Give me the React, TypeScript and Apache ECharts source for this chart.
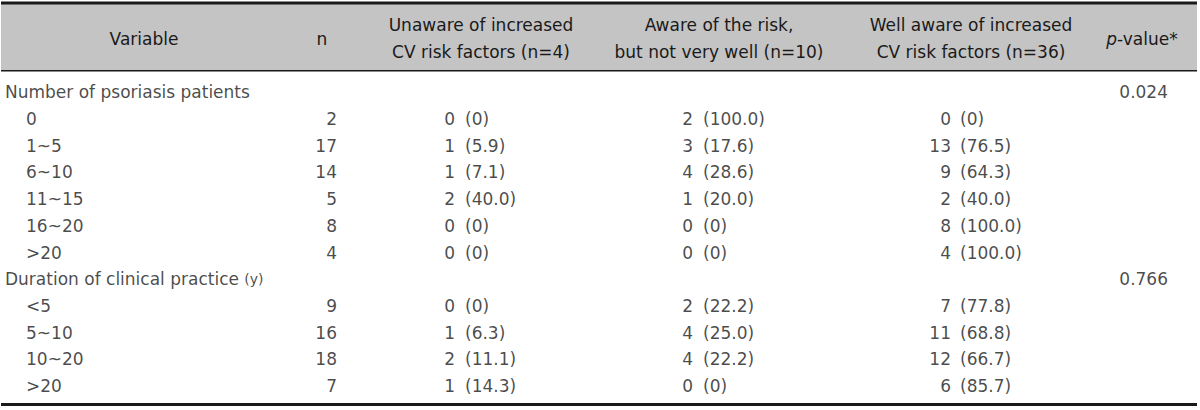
import React, { useEffect, useRef } from "react";
import * as echarts from "echarts";

// ---- data ----
const variables = [
  "Number of psoriasis patients",
  "0",
  "1~5",
  "6~10",
  "11~15",
  "16~20",
  ">20",
  "Duration of clinical practice (y)",
  "<5",
  "5~10",
  "10~20",
  ">20",
];
const isGroup = [true, false, false, false, false, false, false, true, false, false, false, false];
const nValues = [null, 2, 17, 14, 5, 8, 4, null, 9, 16, 18, 7];
const unawareN = [null, 0, 1, 1, 2, 0, 0, null, 0, 1, 2, 1];
const unawarePct = [null, "0", "5.9", "7.1", "40.0", "0", "0", null, "0", "6.3", "11.1", "14.3"];
const awareN = [null, 2, 3, 4, 1, 0, 0, null, 2, 4, 4, 0];
const awarePct = [null, "100.0", "17.6", "28.6", "20.0", "0", "0", null, "22.2", "25.0", "22.2", "0"];
const wellN = [null, 0, 13, 9, 2, 8, 4, null, 7, 11, 12, 6];
const wellPct = [null, "0", "76.5", "64.3", "40.0", "100.0", "100.0", null, "77.8", "68.8", "66.7", "85.7"];
const pValues = ["0.024", null, null, null, null, null, null, "0.766", null, null, null, null];

const headers = [
  "Variable",
  "n",
  "Unaware of increased\nCV risk factors (n=4)",
  "Aware of the risk,\nbut not very well (n=10)",
  "Well aware of increased\nCV risk factors (n=36)",
  "{i|p}-value*",
];

// ---- layout / style ----
const FONT = "'DejaVu Sans', sans-serif";
const INK = "#1a1a1a";
const GRAY = "#c4c4c4";
const FS = 17;
const headerX = [144, 322, 481, 719, 971, 1142];
const colX = {
  varGroup: 5,
  varSub: 26,
  n: 337,
  c1n: 455,
  c1p: 465,
  c2n: 693,
  c2p: 703,
  c3n: 951,
  c3p: 960,
  p: 1168,
};

export default function App() {
  const ref = useRef<HTMLDivElement>(null);
  useEffect(() => {
    document.body.style.margin = "0";
    const chart = echarts.init(ref.current!, null, { renderer: "svg" });

    const baseLabel = {
      show: true,
      distance: 0,
      color: INK,
      fontFamily: FONT,
      fontSize: FS,
    };

    const textSeries = (
      name: string,
      xFor: (i: number) => number,
      values: any[],
      side: "left" | "right",
      fmt: (v: any) => string,
      rich?: any
    ) => ({
      type: "scatter",
      name,
      symbolSize: 0,
      silent: true,
      data: values
        .map((v, i) =>
          v === null || v === undefined
            ? null
            : { value: [xFor(i), i], label: { formatter: fmt(v) } }
        )
        .filter((d) => d !== null),
      label: { ...baseLabel, position: side, rich },
    });

    const series = [
      textSeries(
        "variable",
        (i) => (isGroup[i] ? colX.varGroup : colX.varSub),
        variables,
        "right",
        (v) => String(v).replace("(y)", "{s|(y)}"),
        { s: { fontSize: 14, fontFamily: FONT, color: INK } }
      ),
      textSeries("n", () => colX.n, nValues, "left", (v) => String(v)),
      textSeries("unawareN", () => colX.c1n, unawareN, "left", (v) => String(v)),
      textSeries("unawarePct", () => colX.c1p, unawarePct, "right", (v) => `(${v})`),
      textSeries("awareN", () => colX.c2n, awareN, "left", (v) => String(v)),
      textSeries("awarePct", () => colX.c2p, awarePct, "right", (v) => `(${v})`),
      textSeries("wellN", () => colX.c3n, wellN, "left", (v) => String(v)),
      textSeries("wellPct", () => colX.c3p, wellPct, "right", (v) => `(${v})`),
      textSeries("p", () => colX.p, pValues, "left", (v) => String(v)),
    ];

    const headerTexts = headers.map((h, k) => ({
      type: "text",
      x: headerX[k],
      y: 38.5,
      silent: true,
      style: {
        text: h,
        align: "center",
        verticalAlign: "middle",
        fontFamily: FONT,
        fontSize: FS,
        lineHeight: 27,
        fill: INK,
        rich: {
          i: { fontStyle: "italic", fontFamily: FONT, fontSize: FS, fill: INK },
        },
      },
    }));

    chart.setOption({
      animation: false,
      grid: { left: 0, right: 0, top: 79, bottom: 10.6, containLabel: false },
      xAxis: { type: "value", min: 0, max: 1200, show: false },
      yAxis: { type: "value", min: -0.5, max: 11.5, inverse: true, show: false },
      graphic: [
        { type: "rect", silent: true, shape: { x: 1, y: 4, width: 1196, height: 66 }, style: { fill: GRAY } },
        { type: "rect", silent: true, shape: { x: 1, y: 1.5, width: 1196, height: 3 }, style: { fill: INK } },
        { type: "rect", silent: true, shape: { x: 1, y: 70, width: 1196, height: 1.5 }, style: { fill: INK } },
        { type: "rect", silent: true, shape: { x: 1, y: 403, width: 1196, height: 3 }, style: { fill: INK } },
        ...headerTexts,
      ],
      series,
    } as any);

    return () => chart.dispose();
  }, []);

  return <div ref={ref} style={{ width: 1200, height: 410 }} />;
}
